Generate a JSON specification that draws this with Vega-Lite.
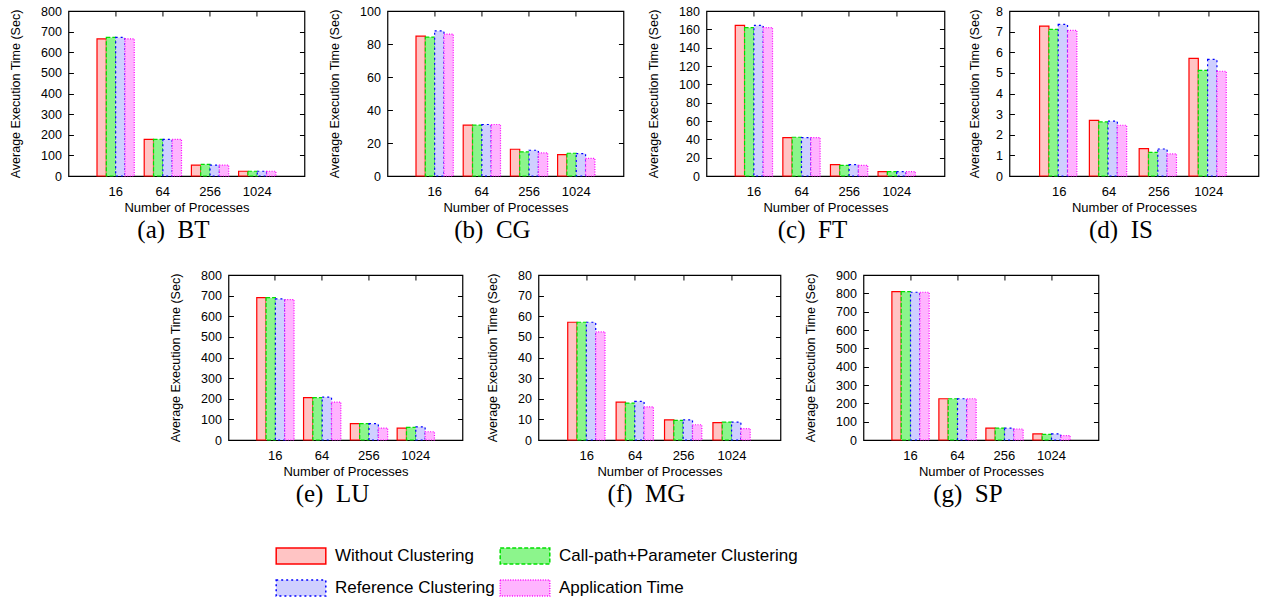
{
  "$schema": "https://vega.github.io/schema/vega-lite/v6.json",
  "padding": {"left": 8, "top": 4, "right": 5, "bottom": 5},
  "background": "white",
  "data": {"values": [
    {"bench":"BT","procs":"16","series":"Without Clustering","time":665},
    {"bench":"BT","procs":"16","series":"Call-path+Parameter Clustering","time":672},
    {"bench":"BT","procs":"16","series":"Reference Clustering","time":672},
    {"bench":"BT","procs":"16","series":"Application Time","time":665},
    {"bench":"BT","procs":"64","series":"Without Clustering","time":178},
    {"bench":"BT","procs":"64","series":"Call-path+Parameter Clustering","time":178},
    {"bench":"BT","procs":"64","series":"Reference Clustering","time":178},
    {"bench":"BT","procs":"64","series":"Application Time","time":178},
    {"bench":"BT","procs":"256","series":"Without Clustering","time":53},
    {"bench":"BT","procs":"256","series":"Call-path+Parameter Clustering","time":56},
    {"bench":"BT","procs":"256","series":"Reference Clustering","time":53},
    {"bench":"BT","procs":"256","series":"Application Time","time":53},
    {"bench":"BT","procs":"1024","series":"Without Clustering","time":23},
    {"bench":"BT","procs":"1024","series":"Call-path+Parameter Clustering","time":23},
    {"bench":"BT","procs":"1024","series":"Reference Clustering","time":23},
    {"bench":"BT","procs":"1024","series":"Application Time","time":23},

    {"bench":"CG","procs":"16","series":"Without Clustering","time":84.8},
    {"bench":"CG","procs":"16","series":"Call-path+Parameter Clustering","time":84.2},
    {"bench":"CG","procs":"16","series":"Reference Clustering","time":87.9},
    {"bench":"CG","procs":"16","series":"Application Time","time":86.0},
    {"bench":"CG","procs":"64","series":"Without Clustering","time":30.8},
    {"bench":"CG","procs":"64","series":"Call-path+Parameter Clustering","time":30.8},
    {"bench":"CG","procs":"64","series":"Reference Clustering","time":31.2},
    {"bench":"CG","procs":"64","series":"Application Time","time":31.2},
    {"bench":"CG","procs":"256","series":"Without Clustering","time":16.2},
    {"bench":"CG","procs":"256","series":"Call-path+Parameter Clustering","time":14.6},
    {"bench":"CG","procs":"256","series":"Reference Clustering","time":15.6},
    {"bench":"CG","procs":"256","series":"Application Time","time":14.0},
    {"bench":"CG","procs":"1024","series":"Without Clustering","time":13.0},
    {"bench":"CG","procs":"1024","series":"Call-path+Parameter Clustering","time":13.8},
    {"bench":"CG","procs":"1024","series":"Reference Clustering","time":13.6},
    {"bench":"CG","procs":"1024","series":"Application Time","time":10.7},

    {"bench":"FT","procs":"16","series":"Without Clustering","time":164.3},
    {"bench":"FT","procs":"16","series":"Call-path+Parameter Clustering","time":161.8},
    {"bench":"FT","procs":"16","series":"Reference Clustering","time":164.3},
    {"bench":"FT","procs":"16","series":"Application Time","time":161.8},
    {"bench":"FT","procs":"64","series":"Without Clustering","time":41.9},
    {"bench":"FT","procs":"64","series":"Call-path+Parameter Clustering","time":42.3},
    {"bench":"FT","procs":"64","series":"Reference Clustering","time":41.9},
    {"bench":"FT","procs":"64","series":"Application Time","time":41.9},
    {"bench":"FT","procs":"256","series":"Without Clustering","time":12.4},
    {"bench":"FT","procs":"256","series":"Call-path+Parameter Clustering","time":11.7},
    {"bench":"FT","procs":"256","series":"Reference Clustering","time":12.4},
    {"bench":"FT","procs":"256","series":"Application Time","time":11.7},
    {"bench":"FT","procs":"1024","series":"Without Clustering","time":4.7},
    {"bench":"FT","procs":"1024","series":"Call-path+Parameter Clustering","time":4.7},
    {"bench":"FT","procs":"1024","series":"Reference Clustering","time":4.7},
    {"bench":"FT","procs":"1024","series":"Application Time","time":4.7},

    {"bench":"IS","procs":"16","series":"Without Clustering","time":7.27},
    {"bench":"IS","procs":"16","series":"Call-path+Parameter Clustering","time":7.11},
    {"bench":"IS","procs":"16","series":"Reference Clustering","time":7.35},
    {"bench":"IS","procs":"16","series":"Application Time","time":7.06},
    {"bench":"IS","procs":"64","series":"Without Clustering","time":2.70},
    {"bench":"IS","procs":"64","series":"Call-path+Parameter Clustering","time":2.62},
    {"bench":"IS","procs":"64","series":"Reference Clustering","time":2.66},
    {"bench":"IS","procs":"64","series":"Application Time","time":2.46},
    {"bench":"IS","procs":"256","series":"Without Clustering","time":1.33},
    {"bench":"IS","procs":"256","series":"Call-path+Parameter Clustering","time":1.15},
    {"bench":"IS","procs":"256","series":"Reference Clustering","time":1.31},
    {"bench":"IS","procs":"256","series":"Application Time","time":1.07},
    {"bench":"IS","procs":"1024","series":"Without Clustering","time":5.70},
    {"bench":"IS","procs":"1024","series":"Call-path+Parameter Clustering","time":5.12},
    {"bench":"IS","procs":"1024","series":"Reference Clustering","time":5.65},
    {"bench":"IS","procs":"1024","series":"Application Time","time":5.08},

    {"bench":"LU","procs":"16","series":"Without Clustering","time":690},
    {"bench":"LU","procs":"16","series":"Call-path+Parameter Clustering","time":690},
    {"bench":"LU","procs":"16","series":"Reference Clustering","time":684},
    {"bench":"LU","procs":"16","series":"Application Time","time":681},
    {"bench":"LU","procs":"64","series":"Without Clustering","time":205},
    {"bench":"LU","procs":"64","series":"Call-path+Parameter Clustering","time":205},
    {"bench":"LU","procs":"64","series":"Reference Clustering","time":208},
    {"bench":"LU","procs":"64","series":"Application Time","time":184},
    {"bench":"LU","procs":"256","series":"Without Clustering","time":79},
    {"bench":"LU","procs":"256","series":"Call-path+Parameter Clustering","time":79},
    {"bench":"LU","procs":"256","series":"Reference Clustering","time":79},
    {"bench":"LU","procs":"256","series":"Application Time","time":58},
    {"bench":"LU","procs":"1024","series":"Without Clustering","time":58},
    {"bench":"LU","procs":"1024","series":"Call-path+Parameter Clustering","time":61},
    {"bench":"LU","procs":"1024","series":"Reference Clustering","time":64},
    {"bench":"LU","procs":"1024","series":"Application Time","time":40},

    {"bench":"MG","procs":"16","series":"Without Clustering","time":57.1},
    {"bench":"MG","procs":"16","series":"Call-path+Parameter Clustering","time":57.1},
    {"bench":"MG","procs":"16","series":"Reference Clustering","time":57.1},
    {"bench":"MG","procs":"16","series":"Application Time","time":52.4},
    {"bench":"MG","procs":"64","series":"Without Clustering","time":18.4},
    {"bench":"MG","procs":"64","series":"Call-path+Parameter Clustering","time":17.9},
    {"bench":"MG","procs":"64","series":"Reference Clustering","time":18.7},
    {"bench":"MG","procs":"64","series":"Application Time","time":16.1},
    {"bench":"MG","procs":"256","series":"Without Clustering","time":9.8},
    {"bench":"MG","procs":"256","series":"Call-path+Parameter Clustering","time":9.5},
    {"bench":"MG","procs":"256","series":"Reference Clustering","time":9.8},
    {"bench":"MG","procs":"256","series":"Application Time","time":7.4},
    {"bench":"MG","procs":"1024","series":"Without Clustering","time":8.4},
    {"bench":"MG","procs":"1024","series":"Call-path+Parameter Clustering","time":8.7},
    {"bench":"MG","procs":"1024","series":"Reference Clustering","time":8.7},
    {"bench":"MG","procs":"1024","series":"Application Time","time":5.5},

    {"bench":"SP","procs":"16","series":"Without Clustering","time":809},
    {"bench":"SP","procs":"16","series":"Call-path+Parameter Clustering","time":809},
    {"bench":"SP","procs":"16","series":"Reference Clustering","time":806},
    {"bench":"SP","procs":"16","series":"Application Time","time":806},
    {"bench":"SP","procs":"64","series":"Without Clustering","time":225},
    {"bench":"SP","procs":"64","series":"Call-path+Parameter Clustering","time":225},
    {"bench":"SP","procs":"64","series":"Reference Clustering","time":225},
    {"bench":"SP","procs":"64","series":"Application Time","time":225},
    {"bench":"SP","procs":"256","series":"Without Clustering","time":65},
    {"bench":"SP","procs":"256","series":"Call-path+Parameter Clustering","time":65},
    {"bench":"SP","procs":"256","series":"Reference Clustering","time":65},
    {"bench":"SP","procs":"256","series":"Application Time","time":60},
    {"bench":"SP","procs":"1024","series":"Without Clustering","time":33},
    {"bench":"SP","procs":"1024","series":"Call-path+Parameter Clustering","time":31},
    {"bench":"SP","procs":"1024","series":"Reference Clustering","time":33},
    {"bench":"SP","procs":"1024","series":"Application Time","time":24}
  ]},
  "spacing": 24,
  "center": true,
  "resolve": {"scale": {"fill": "shared", "stroke": "shared", "strokeDash": "shared"}, "legend": {"fill": "shared", "stroke": "shared", "strokeDash": "shared"}},
  "vconcat": [
    {
      "spacing": 21,
      "resolve": {"scale": {"fill": "shared", "stroke": "shared", "strokeDash": "shared"}},
      "hconcat": [
        {
          "width": 236, "height": 165,
          "title": {"text": "(a) \u00a0BT", "orient": "bottom"},
          "transform": [{"filter": "datum.bench === 'BT'"}],
          "encoding": {
            "x": {"field": "procs", "type": "ordinal", "sort": ["16","64","256","1024"], "title": "Number of Processes", "scale": {"paddingInner": 0.21, "paddingOuter": 0.605}},
            "xOffset": {"field": "series", "type": "nominal", "sort": ["Without Clustering","Call-path+Parameter Clustering","Reference Clustering","Application Time"], "scale": {"paddingInner": 0, "paddingOuter": 0}}
          },
          "layer": [
            {"mark": {"type": "bar", "strokeWidth": 1.2},
             "encoding": {
               "y": {"field": "time", "type": "quantitative", "title": "Average Execution Time (Sec)", "scale": {"domain": [0, 800], "nice": false}, "axis": {"values": [0,100,200,300,400,500,600,700,800]}},
               "fill": {"field": "series", "type": "nominal", "scale": {"domain": ["Without Clustering","Reference Clustering","Call-path+Parameter Clustering","Application Time"], "range": ["#ffc4c4","#cfcfff","#8cf58c","#ffb4ff"]}, "legend": {"orient": "none", "legendX": 224, "legendY": 536, "columns": 2, "title": null}},
               "stroke": {"field": "series", "type": "nominal", "scale": {"domain": ["Without Clustering","Reference Clustering","Call-path+Parameter Clustering","Application Time"], "range": ["#ff0000","#0000ff","#00e000","#ff00ff"]}, "legend": {"orient": "none", "legendX": 224, "legendY": 536, "columns": 2, "title": null}},
               "strokeDash": {"field": "series", "type": "nominal", "scale": {"domain": ["Without Clustering","Reference Clustering","Call-path+Parameter Clustering","Application Time"], "range": [[1,0],[2,3],[4,2],[1,1.5]]}, "legend": {"orient": "none", "legendX": 224, "legendY": 536, "columns": 2, "title": null}}
             }},
            {"mark": {"type": "bar", "opacity": 0},
             "encoding": {
               "x": {"field": "procs", "type": "ordinal", "sort": ["16","64","256","1024"], "scale": {"paddingInner": 0.21, "paddingOuter": 0.605}, "axis": {"orient": "top", "labels": false, "title": null}},
               "y": {"field": "time", "type": "quantitative", "scale": {"domain": [0, 800], "nice": false}, "axis": {"orient": "right", "labels": false, "title": null, "values": [0,100,200,300,400,500,600,700,800]}}
             }}
          ],
          "resolve": {"axis": {"y": "independent", "x": "independent"}}
        },
        {
          "width": 236, "height": 165,
          "title": {"text": "(b) \u00a0CG", "orient": "bottom"},
          "transform": [{"filter": "datum.bench === 'CG'"}],
          "encoding": {
            "x": {"field": "procs", "type": "ordinal", "sort": ["16","64","256","1024"], "title": "Number of Processes", "scale": {"paddingInner": 0.21, "paddingOuter": 0.605}},
            "xOffset": {"field": "series", "type": "nominal", "sort": ["Without Clustering","Call-path+Parameter Clustering","Reference Clustering","Application Time"], "scale": {"paddingInner": 0, "paddingOuter": 0}}
          },
          "layer": [
            {"mark": {"type": "bar", "strokeWidth": 1.2},
             "encoding": {
               "y": {"field": "time", "type": "quantitative", "title": "Average Execution Time (Sec)", "scale": {"domain": [0, 100], "nice": false}, "axis": {"values": [0,20,40,60,80,100]}},
               "fill": {"field": "series", "type": "nominal", "scale": {"domain": ["Without Clustering","Reference Clustering","Call-path+Parameter Clustering","Application Time"], "range": ["#ffc4c4","#cfcfff","#8cf58c","#ffb4ff"]}, "legend": {"orient": "none", "legendX": 224, "legendY": 536, "columns": 2, "title": null}},
               "stroke": {"field": "series", "type": "nominal", "scale": {"domain": ["Without Clustering","Reference Clustering","Call-path+Parameter Clustering","Application Time"], "range": ["#ff0000","#0000ff","#00e000","#ff00ff"]}, "legend": {"orient": "none", "legendX": 224, "legendY": 536, "columns": 2, "title": null}},
               "strokeDash": {"field": "series", "type": "nominal", "scale": {"domain": ["Without Clustering","Reference Clustering","Call-path+Parameter Clustering","Application Time"], "range": [[1,0],[2,3],[4,2],[1,1.5]]}, "legend": {"orient": "none", "legendX": 224, "legendY": 536, "columns": 2, "title": null}}
             }},
            {"mark": {"type": "bar", "opacity": 0},
             "encoding": {
               "x": {"field": "procs", "type": "ordinal", "sort": ["16","64","256","1024"], "scale": {"paddingInner": 0.21, "paddingOuter": 0.605}, "axis": {"orient": "top", "labels": false, "title": null}},
               "y": {"field": "time", "type": "quantitative", "scale": {"domain": [0, 100], "nice": false}, "axis": {"orient": "right", "labels": false, "title": null, "values": [0,20,40,60,80,100]}}
             }}
          ],
          "resolve": {"axis": {"y": "independent", "x": "independent"}}
        },
        {
          "width": 238, "height": 165,
          "title": {"text": "(c) \u00a0FT", "orient": "bottom"},
          "transform": [{"filter": "datum.bench === 'FT'"}],
          "encoding": {
            "x": {"field": "procs", "type": "ordinal", "sort": ["16","64","256","1024"], "title": "Number of Processes", "scale": {"paddingInner": 0.21, "paddingOuter": 0.605}},
            "xOffset": {"field": "series", "type": "nominal", "sort": ["Without Clustering","Call-path+Parameter Clustering","Reference Clustering","Application Time"], "scale": {"paddingInner": 0, "paddingOuter": 0}}
          },
          "layer": [
            {"mark": {"type": "bar", "strokeWidth": 1.2},
             "encoding": {
               "y": {"field": "time", "type": "quantitative", "title": "Average Execution Time (Sec)", "scale": {"domain": [0, 180], "nice": false}, "axis": {"values": [0,20,40,60,80,100,120,140,160,180]}},
               "fill": {"field": "series", "type": "nominal", "scale": {"domain": ["Without Clustering","Reference Clustering","Call-path+Parameter Clustering","Application Time"], "range": ["#ffc4c4","#cfcfff","#8cf58c","#ffb4ff"]}, "legend": {"orient": "none", "legendX": 224, "legendY": 536, "columns": 2, "title": null}},
               "stroke": {"field": "series", "type": "nominal", "scale": {"domain": ["Without Clustering","Reference Clustering","Call-path+Parameter Clustering","Application Time"], "range": ["#ff0000","#0000ff","#00e000","#ff00ff"]}, "legend": {"orient": "none", "legendX": 224, "legendY": 536, "columns": 2, "title": null}},
               "strokeDash": {"field": "series", "type": "nominal", "scale": {"domain": ["Without Clustering","Reference Clustering","Call-path+Parameter Clustering","Application Time"], "range": [[1,0],[2,3],[4,2],[1,1.5]]}, "legend": {"orient": "none", "legendX": 224, "legendY": 536, "columns": 2, "title": null}}
             }},
            {"mark": {"type": "bar", "opacity": 0},
             "encoding": {
               "x": {"field": "procs", "type": "ordinal", "sort": ["16","64","256","1024"], "scale": {"paddingInner": 0.21, "paddingOuter": 0.605}, "axis": {"orient": "top", "labels": false, "title": null}},
               "y": {"field": "time", "type": "quantitative", "scale": {"domain": [0, 180], "nice": false}, "axis": {"orient": "right", "labels": false, "title": null, "values": [0,20,40,60,80,100,120,140,160,180]}}
             }}
          ],
          "resolve": {"axis": {"y": "independent", "x": "independent"}}
        },
        {
          "width": 249, "height": 165,
          "title": {"text": "(d) \u00a0IS", "orient": "bottom"},
          "transform": [{"filter": "datum.bench === 'IS'"}],
          "encoding": {
            "x": {"field": "procs", "type": "ordinal", "sort": ["16","64","256","1024"], "title": "Number of Processes", "scale": {"paddingInner": 0.21, "paddingOuter": 0.605}},
            "xOffset": {"field": "series", "type": "nominal", "sort": ["Without Clustering","Call-path+Parameter Clustering","Reference Clustering","Application Time"], "scale": {"paddingInner": 0, "paddingOuter": 0}}
          },
          "layer": [
            {"mark": {"type": "bar", "strokeWidth": 1.2},
             "encoding": {
               "y": {"field": "time", "type": "quantitative", "title": "Average Execution Time (Sec)", "scale": {"domain": [0, 8], "nice": false}, "axis": {"values": [0,1,2,3,4,5,6,7,8], "titlePadding": 14}},
               "fill": {"field": "series", "type": "nominal", "scale": {"domain": ["Without Clustering","Reference Clustering","Call-path+Parameter Clustering","Application Time"], "range": ["#ffc4c4","#cfcfff","#8cf58c","#ffb4ff"]}, "legend": {"orient": "none", "legendX": 224, "legendY": 536, "columns": 2, "title": null}},
               "stroke": {"field": "series", "type": "nominal", "scale": {"domain": ["Without Clustering","Reference Clustering","Call-path+Parameter Clustering","Application Time"], "range": ["#ff0000","#0000ff","#00e000","#ff00ff"]}, "legend": {"orient": "none", "legendX": 224, "legendY": 536, "columns": 2, "title": null}},
               "strokeDash": {"field": "series", "type": "nominal", "scale": {"domain": ["Without Clustering","Reference Clustering","Call-path+Parameter Clustering","Application Time"], "range": [[1,0],[2,3],[4,2],[1,1.5]]}, "legend": {"orient": "none", "legendX": 224, "legendY": 536, "columns": 2, "title": null}}
             }},
            {"mark": {"type": "bar", "opacity": 0},
             "encoding": {
               "x": {"field": "procs", "type": "ordinal", "sort": ["16","64","256","1024"], "scale": {"paddingInner": 0.21, "paddingOuter": 0.605}, "axis": {"orient": "top", "labels": false, "title": null}},
               "y": {"field": "time", "type": "quantitative", "scale": {"domain": [0, 8], "nice": false}, "axis": {"orient": "right", "labels": false, "title": null, "values": [0,1,2,3,4,5,6,7,8]}}
             }}
          ],
          "resolve": {"axis": {"y": "independent", "x": "independent"}}
        }
      ]
    },
    {
      "spacing": 21,
      "resolve": {"scale": {"fill": "shared", "stroke": "shared", "strokeDash": "shared"}},
      "hconcat": [
        {
          "width": 234, "height": 165,
          "title": {"text": "(e) \u00a0LU", "orient": "bottom"},
          "transform": [{"filter": "datum.bench === 'LU'"}],
          "encoding": {
            "x": {"field": "procs", "type": "ordinal", "sort": ["16","64","256","1024"], "title": "Number of Processes", "scale": {"paddingInner": 0.21, "paddingOuter": 0.605}},
            "xOffset": {"field": "series", "type": "nominal", "sort": ["Without Clustering","Call-path+Parameter Clustering","Reference Clustering","Application Time"], "scale": {"paddingInner": 0, "paddingOuter": 0}}
          },
          "layer": [
            {"mark": {"type": "bar", "strokeWidth": 1.2},
             "encoding": {
               "y": {"field": "time", "type": "quantitative", "title": "Average Execution Time (Sec)", "scale": {"domain": [0, 800], "nice": false}, "axis": {"values": [0,100,200,300,400,500,600,700,800]}},
               "fill": {"field": "series", "type": "nominal", "scale": {"domain": ["Without Clustering","Reference Clustering","Call-path+Parameter Clustering","Application Time"], "range": ["#ffc4c4","#cfcfff","#8cf58c","#ffb4ff"]}, "legend": {"orient": "none", "legendX": 224, "legendY": 536, "columns": 2, "title": null}},
               "stroke": {"field": "series", "type": "nominal", "scale": {"domain": ["Without Clustering","Reference Clustering","Call-path+Parameter Clustering","Application Time"], "range": ["#ff0000","#0000ff","#00e000","#ff00ff"]}, "legend": {"orient": "none", "legendX": 224, "legendY": 536, "columns": 2, "title": null}},
               "strokeDash": {"field": "series", "type": "nominal", "scale": {"domain": ["Without Clustering","Reference Clustering","Call-path+Parameter Clustering","Application Time"], "range": [[1,0],[2,3],[4,2],[1,1.5]]}, "legend": {"orient": "none", "legendX": 224, "legendY": 536, "columns": 2, "title": null}}
             }},
            {"mark": {"type": "bar", "opacity": 0},
             "encoding": {
               "x": {"field": "procs", "type": "ordinal", "sort": ["16","64","256","1024"], "scale": {"paddingInner": 0.21, "paddingOuter": 0.605}, "axis": {"orient": "top", "labels": false, "title": null}},
               "y": {"field": "time", "type": "quantitative", "scale": {"domain": [0, 800], "nice": false}, "axis": {"orient": "right", "labels": false, "title": null, "values": [0,100,200,300,400,500,600,700,800]}}
             }}
          ],
          "resolve": {"axis": {"y": "independent", "x": "independent"}}
        },
        {
          "width": 242, "height": 165,
          "title": {"text": "(f) \u00a0MG", "orient": "bottom"},
          "transform": [{"filter": "datum.bench === 'MG'"}],
          "encoding": {
            "x": {"field": "procs", "type": "ordinal", "sort": ["16","64","256","1024"], "title": "Number of Processes", "scale": {"paddingInner": 0.21, "paddingOuter": 0.605}},
            "xOffset": {"field": "series", "type": "nominal", "sort": ["Without Clustering","Call-path+Parameter Clustering","Reference Clustering","Application Time"], "scale": {"paddingInner": 0, "paddingOuter": 0}}
          },
          "layer": [
            {"mark": {"type": "bar", "strokeWidth": 1.2},
             "encoding": {
               "y": {"field": "time", "type": "quantitative", "title": "Average Execution Time (Sec)", "scale": {"domain": [0, 80], "nice": false}, "axis": {"values": [0,10,20,30,40,50,60,70,80]}},
               "fill": {"field": "series", "type": "nominal", "scale": {"domain": ["Without Clustering","Reference Clustering","Call-path+Parameter Clustering","Application Time"], "range": ["#ffc4c4","#cfcfff","#8cf58c","#ffb4ff"]}, "legend": {"orient": "none", "legendX": 224, "legendY": 536, "columns": 2, "title": null}},
               "stroke": {"field": "series", "type": "nominal", "scale": {"domain": ["Without Clustering","Reference Clustering","Call-path+Parameter Clustering","Application Time"], "range": ["#ff0000","#0000ff","#00e000","#ff00ff"]}, "legend": {"orient": "none", "legendX": 224, "legendY": 536, "columns": 2, "title": null}},
               "strokeDash": {"field": "series", "type": "nominal", "scale": {"domain": ["Without Clustering","Reference Clustering","Call-path+Parameter Clustering","Application Time"], "range": [[1,0],[2,3],[4,2],[1,1.5]]}, "legend": {"orient": "none", "legendX": 224, "legendY": 536, "columns": 2, "title": null}}
             }},
            {"mark": {"type": "bar", "opacity": 0},
             "encoding": {
               "x": {"field": "procs", "type": "ordinal", "sort": ["16","64","256","1024"], "scale": {"paddingInner": 0.21, "paddingOuter": 0.605}, "axis": {"orient": "top", "labels": false, "title": null}},
               "y": {"field": "time", "type": "quantitative", "scale": {"domain": [0, 80], "nice": false}, "axis": {"orient": "right", "labels": false, "title": null, "values": [0,10,20,30,40,50,60,70,80]}}
             }}
          ],
          "resolve": {"axis": {"y": "independent", "x": "independent"}}
        },
        {
          "width": 235, "height": 165,
          "title": {"text": "(g) \u00a0SP", "orient": "bottom"},
          "transform": [{"filter": "datum.bench === 'SP'"}],
          "encoding": {
            "x": {"field": "procs", "type": "ordinal", "sort": ["16","64","256","1024"], "title": "Number of Processes", "scale": {"paddingInner": 0.21, "paddingOuter": 0.605}},
            "xOffset": {"field": "series", "type": "nominal", "sort": ["Without Clustering","Call-path+Parameter Clustering","Reference Clustering","Application Time"], "scale": {"paddingInner": 0, "paddingOuter": 0}}
          },
          "layer": [
            {"mark": {"type": "bar", "strokeWidth": 1.2},
             "encoding": {
               "y": {"field": "time", "type": "quantitative", "title": "Average Execution Time (Sec)", "scale": {"domain": [0, 900], "nice": false}, "axis": {"values": [0,100,200,300,400,500,600,700,800,900]}},
               "fill": {"field": "series", "type": "nominal", "scale": {"domain": ["Without Clustering","Reference Clustering","Call-path+Parameter Clustering","Application Time"], "range": ["#ffc4c4","#cfcfff","#8cf58c","#ffb4ff"]}, "legend": {"orient": "none", "legendX": 224, "legendY": 536, "columns": 2, "title": null}},
               "stroke": {"field": "series", "type": "nominal", "scale": {"domain": ["Without Clustering","Reference Clustering","Call-path+Parameter Clustering","Application Time"], "range": ["#ff0000","#0000ff","#00e000","#ff00ff"]}, "legend": {"orient": "none", "legendX": 224, "legendY": 536, "columns": 2, "title": null}},
               "strokeDash": {"field": "series", "type": "nominal", "scale": {"domain": ["Without Clustering","Reference Clustering","Call-path+Parameter Clustering","Application Time"], "range": [[1,0],[2,3],[4,2],[1,1.5]]}, "legend": {"orient": "none", "legendX": 224, "legendY": 536, "columns": 2, "title": null}}
             }},
            {"mark": {"type": "bar", "opacity": 0},
             "encoding": {
               "x": {"field": "procs", "type": "ordinal", "sort": ["16","64","256","1024"], "scale": {"paddingInner": 0.21, "paddingOuter": 0.605}, "axis": {"orient": "top", "labels": false, "title": null}},
               "y": {"field": "time", "type": "quantitative", "scale": {"domain": [0, 900], "nice": false}, "axis": {"orient": "right", "labels": false, "title": null, "values": [0,100,200,300,400,500,600,700,800,900]}}
             }}
          ],
          "resolve": {"axis": {"y": "independent", "x": "independent"}}
        }
      ]
    }
  ],
  "config": {
    "view": {"stroke": "black", "strokeWidth": 1.2},
    "axis": {"grid": false, "domain": false, "labelFont": "Liberation Sans", "titleFont": "Liberation Sans", "labelColor": "black", "titleColor": "black", "tickColor": "black", "titleFontWeight": "normal", "labelFontSize": 12.5, "titleFontSize": 12.5, "tickSize": -5, "tickWidth": 1},
    "axisY": {"labelPadding": 12, "titlePadding": 18},
    "axisX": {"labelAngle": 0, "labelPadding": 14, "titlePadding": 3, "labelFontSize": 13, "titleFontSize": 13},
    "title": {"font": "Liberation Serif", "fontSize": 25, "fontWeight": "normal", "color": "black", "offset": 4, "dx": -13},
    "legend": {"symbolType": "M-3.1,-1H3.1V1H-3.1Z", "symbolSize": 256, "symbolStrokeWidth": 1.5, "symbolOpacity": 1, "labelFont": "Liberation Sans", "labelFontSize": 17, "labelColor": "black", "labelOffset": 25, "rowPadding": 10, "columnPadding": 2, "labelLimit": 400}
  }
}
